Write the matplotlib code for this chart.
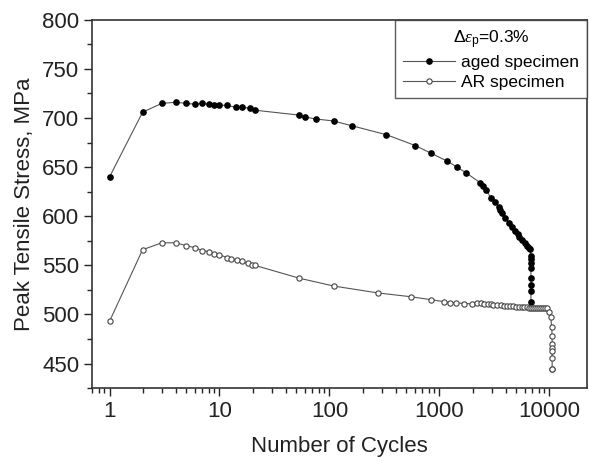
import numpy as np
import matplotlib.pyplot as plt
from matplotlib.ticker import FixedLocator, MultipleLocator, FuncFormatter

plt.rcParams['font.family'] = ['Liberation Sans', 'DejaVu Sans']
plt.rcParams['mathtext.fontset'] = 'custom'
plt.rcParams['mathtext.rm'] = 'Liberation Sans'
plt.rcParams['mathtext.it'] = 'Liberation Serif:italic'

# aged specimen
aged_n = [1, 2, 3, 4, 5, 6, 7, 8, 9, 10, 11.6, 14, 16, 19, 21, 53, 60, 76,
          109, 162, 330, 604, 846, 1183, 1450, 1760, 2360, 2470, 2650, 2930,
          3230, 3500, 3580, 3740, 3960, 4310, 4600, 4900, 5200, 5300, 5600,
          6000, 6300, 6500, 6700, 6800, 6800, 6800, 6800, 6800, 6800, 6800, 6800]
aged_s = [640, 706, 715, 716, 715, 714, 715, 714, 713, 713, 713, 711, 711, 710,
          708, 703, 701, 699, 697, 692, 683, 672, 664, 656, 650, 644, 634, 631,
          627, 619, 615, 609, 606, 603, 598, 593, 589, 585, 582, 579, 576, 573,
          570, 568, 567, 560, 556, 552, 547, 537, 530, 524, 513]

# as-received specimen
ar_n = [1, 2, 3, 4, 5, 6, 7, 8, 9, 10, 11.6, 12.8, 14.3, 16, 18, 19.6, 21,
        53, 109, 274, 556, 846, 1110, 1260, 1430, 1690, 1960, 2220, 2370, 2530,
        2760, 2930, 3080, 3370, 3600, 3850, 4100, 4400, 4700, 5000, 5300, 5600,
        5900, 6200, 6500, 6800, 7100, 7400, 7700, 8000, 8400, 8800, 9200, 9600,
        10000, 10300, 10500, 10600, 10600, 10600, 10600, 10600, 10600, 10600]
ar_s = [493, 566, 573, 573, 570, 568, 565, 564, 562, 561, 558, 557, 555, 554,
        552, 550, 550, 537, 529, 522, 518, 515, 513, 512, 512, 511, 511, 512,
        512, 511, 511, 511, 510, 510, 510, 509, 509, 509, 509, 508, 508, 508,
        508, 508, 507, 507, 507, 507, 507, 507, 507, 507, 507, 507, 503, 497,
        487, 478, 470, 466, 463, 456, 445, 445]

fig, ax = plt.subplots(figsize=(5.89, 4.61), dpi=100)
fig.subplots_adjust(left=0.157, right=0.997, top=0.957, bottom=0.158)

ax.plot(aged_n, aged_s, '-', color='#555555', lw=0.8, marker='o', ms=3.8,
        mfc='black', mec='black', label='aged specimen')
ax.plot(ar_n, ar_s, '-', color='#555555', lw=0.8, marker='o', ms=3.8,
        mfc='white', mec='#444444', mew=0.8, label='AR specimen')

ax.set_xscale('log')
ax.set_xlim(0.70, 22100)
ax.set_ylim(425, 800)
ax.xaxis.set_major_locator(FixedLocator([1, 10, 100, 1000, 10000]))
ax.xaxis.set_major_formatter(FuncFormatter(lambda v, p: '%d' % v))
minor = [m * 10.0 ** e for e in range(-1, 4) for m in range(2, 10)]
minor = [v for v in minor if v >= 0.7]
ax.xaxis.set_minor_locator(FixedLocator(minor))
ax.yaxis.set_minor_locator(MultipleLocator(25))
ax.set_yticks([450, 500, 550, 600, 650, 700, 750, 800])
ax.tick_params(which='both', direction='out', top=False, right=False,
               colors='#222222', labelsize=16)
ax.tick_params(which='major', length=6, width=1)
ax.tick_params(which='minor', length=3.5, width=1)
for sp in ax.spines.values():
    sp.set_color('#333333')
    sp.set_linewidth(1.2)

ax.set_xlabel('Number of Cycles', fontsize=16, color='#222222', labelpad=10)
ax.set_ylabel('Peak Tensile Stress, MPa', fontsize=16, color='#222222', labelpad=5)

leg = ax.legend(loc='upper right', title=r'$\Delta\varepsilon_{\mathrm{p}}$=0.3%',
                fontsize=12.5, title_fontsize=12.5, frameon=True, fancybox=False,
                borderaxespad=0, handlelength=3.0, handletextpad=0.3,
                labelspacing=0.25, borderpad=0.5)
leg.get_frame().set_edgecolor('#333333')
leg.get_frame().set_linewidth(1.0)

fig.savefig('out.png', dpi=100)
